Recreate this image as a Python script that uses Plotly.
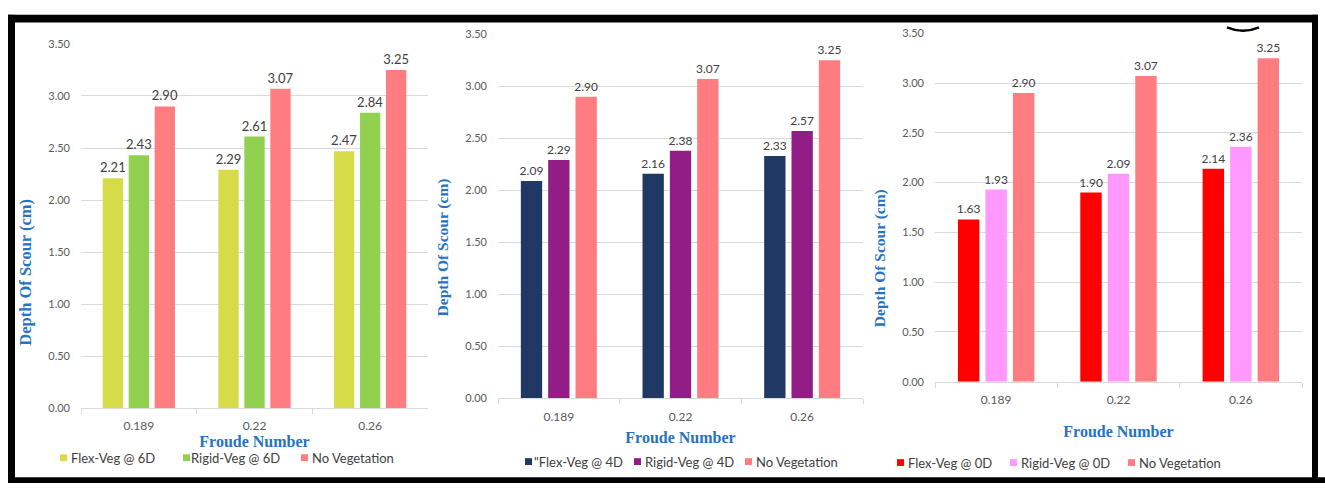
import plotly.graph_objects as go

W, H = 1325, 489

# ---------------- data ----------------
froude = ["0.189", "0.22", "0.26"]

p1_names = ["Flex-Veg @ 6D", "Rigid-Veg @ 6D", "No Vegetation"]
p1_flex = [2.21, 2.29, 2.47]
p1_rigid = [2.43, 2.61, 2.84]
p1_none = [2.90, 3.07, 3.25]

p2_names = ['"Flex-Veg @ 4D', "Rigid-Veg @ 4D", "No Vegetation"]
p2_flex = [2.09, 2.16, 2.33]
p2_rigid = [2.29, 2.38, 2.57]
p2_none = [2.90, 3.07, 3.25]

p3_names = ["Flex-Veg @ 0D", "Rigid-Veg @ 0D", "No Vegetation"]
p3_flex = [1.63, 1.90, 2.14]
p3_rigid = [1.93, 2.09, 2.36]
p3_none = [2.90, 3.07, 3.25]

y_ticks = [0, 0.5, 1.0, 1.5, 2.0, 2.5, 3.0, 3.5]

# ---------------- style ----------------
p1_colors = ["#D6DC48", "#92D050", "#FF7C80"]
p2_colors = ["#1F3864", "#921D86", "#FF7C80"]
p3_colors = ["#FF0000", "#FF99FF", "#FF7C80"]
TITLE_BLUE = "#2673BF"
GRID = "#D9D9D9"
TXT = "#404040"
TICK = "#595959"
FONT = "Lato"
SERIF = "Liberation Serif"


def px(x):
    return x / W


def py(y):
    return 1 - y / H


fig = go.Figure()

panels = [
    dict(names=p1_names, vals=[p1_flex, p1_rigid, p1_none], colors=p1_colors,
         xd=(81, 428), yd=(412, 38), xa="x", ya="y", lsize=13,
         leg_sq=[60, 183, 301], leg_tx=[70, 190, 311], legy=463,
         standoff=2, ytx=26, yty=273, ytsize=16.5),
    dict(names=p2_names, vals=[p2_flex, p2_rigid, p2_none], colors=p2_colors,
         xd=(498, 863), yd=(402, 28), xa="x2", ya="y2", lsize=12,
         leg_sq=[525, 634, 745], leg_tx=[533, 644, 755], legy=467,
         standoff=9, ytx=443, yty=247, ytsize=15.5),
    dict(names=p3_names, vals=[p3_flex, p3_rigid, p3_none], colors=p3_colors,
         xd=(935, 1302), yd=(385, 27), xa="x3", ya="y3", lsize=12,
         leg_sq=[897, 1010, 1128], leg_tx=[907, 1020, 1138], legy=468,
         standoff=19, ytx=880, yty=258, ytsize=15.5),
]

annotations = []
shapes = []
for i, p in enumerate(panels):
    for name, vals, col in zip(p["names"], p["vals"], p["colors"]):
        fig.add_trace(go.Bar(
            x=froude, y=vals, name=name, marker=dict(color=col, line=dict(width=0)),
            text=[f"{v:.2f}" for v in vals], textposition="outside",
            constraintext="none",
            textfont=dict(family=FONT, size=p["lsize"], color=TXT),
            cliponaxis=False, xaxis=p["xa"], yaxis=p["ya"], showlegend=False,
        ))
    sfx = "" if i == 0 else str(i + 1)
    fig.update_layout(**{
        "xaxis" + sfx: dict(
            domain=[px(p["xd"][0]), px(p["xd"][1])], anchor=p["ya"],
            showline=True, linecolor=GRID, linewidth=1,
            ticks="outside", tickson="boundaries", ticklen=5, tickcolor=GRID,
            ticklabelstandoff=7,
            tickfont=dict(family=FONT, size=12, color=TICK),
            showgrid=False, fixedrange=True,
            title=dict(text="<b>Froude Number</b>", standoff=p["standoff"],
                       font=dict(family=SERIF, size=16, color=TITLE_BLUE)),
        ),
        "yaxis" + sfx: dict(
            domain=[py(p["yd"][0]), py(p["yd"][1])], anchor=p["xa"],
            range=[0, 3.5], tickvals=y_ticks,
            ticktext=[f"{v:.2f}" for v in y_ticks],
            showgrid=True, gridcolor=GRID, gridwidth=1,
            zeroline=False, showline=False, ticks="",
            ticklabelstandoff=10,
            tickfont=dict(family=FONT, size=11, color=TICK), fixedrange=True,
        ),
    })
    annotations.append(dict(
        text="<b>Depth Of Scour (cm)</b>", textangle=-90,
        x=px(p["ytx"]), y=py(p["yty"]), xref="paper", yref="paper",
        showarrow=False, xanchor="center", yanchor="middle",
        font=dict(family=SERIF, size=p["ytsize"], color=TITLE_BLUE),
    ))
    # legend (drawn as key squares + labels)
    for name, col, sx, tx in zip(p["names"], p["colors"], p["leg_sq"], p["leg_tx"]):
        shapes.append(dict(type="rect", xref="paper", yref="paper",
                           x0=px(sx), x1=px(sx + 7),
                           y0=py(p["legy"] + 3.5), y1=py(p["legy"] - 3.5),
                           fillcolor=col, line=dict(width=0)))
        annotations.append(dict(
            text=name, x=px(tx), y=py(p["legy"]), xref="paper", yref="paper",
            showarrow=False, xanchor="left", yanchor="middle",
            font=dict(family=FONT, size=13, color=TXT),
            borderpad=0,
        ))

# frame (black border of the figure image)
for (x0, y0, x1, y1) in [(8, 8, 1318, 16), (8, 8, 15, 489), (1312, 8, 1318, 489), (8, 483, 1325, 489)]:
    shapes.append(dict(type="rect", xref="paper", yref="paper",
                       x0=px(x0), x1=px(x1), y0=py(y1), y1=py(y0),
                       fillcolor="black", line=dict(width=0), layer="above"))
shapes.append(dict(type="path", xref="paper", yref="paper",
                   path=f"M {px(1227)},{py(21)} Q {px(1243)},{py(28)} {px(1259)},{py(21)}",
                   line=dict(color="black", width=2.5)))

fig.update_layout(
    width=W, height=H, margin=dict(l=0, r=0, t=0, b=0),
    paper_bgcolor="white", plot_bgcolor="white",
    barmode="group", bargap=0.326, bargroupgap=0.22,
    showlegend=False, annotations=annotations, shapes=shapes,
    font=dict(family=FONT),
)

fig.write_html("out.html")
